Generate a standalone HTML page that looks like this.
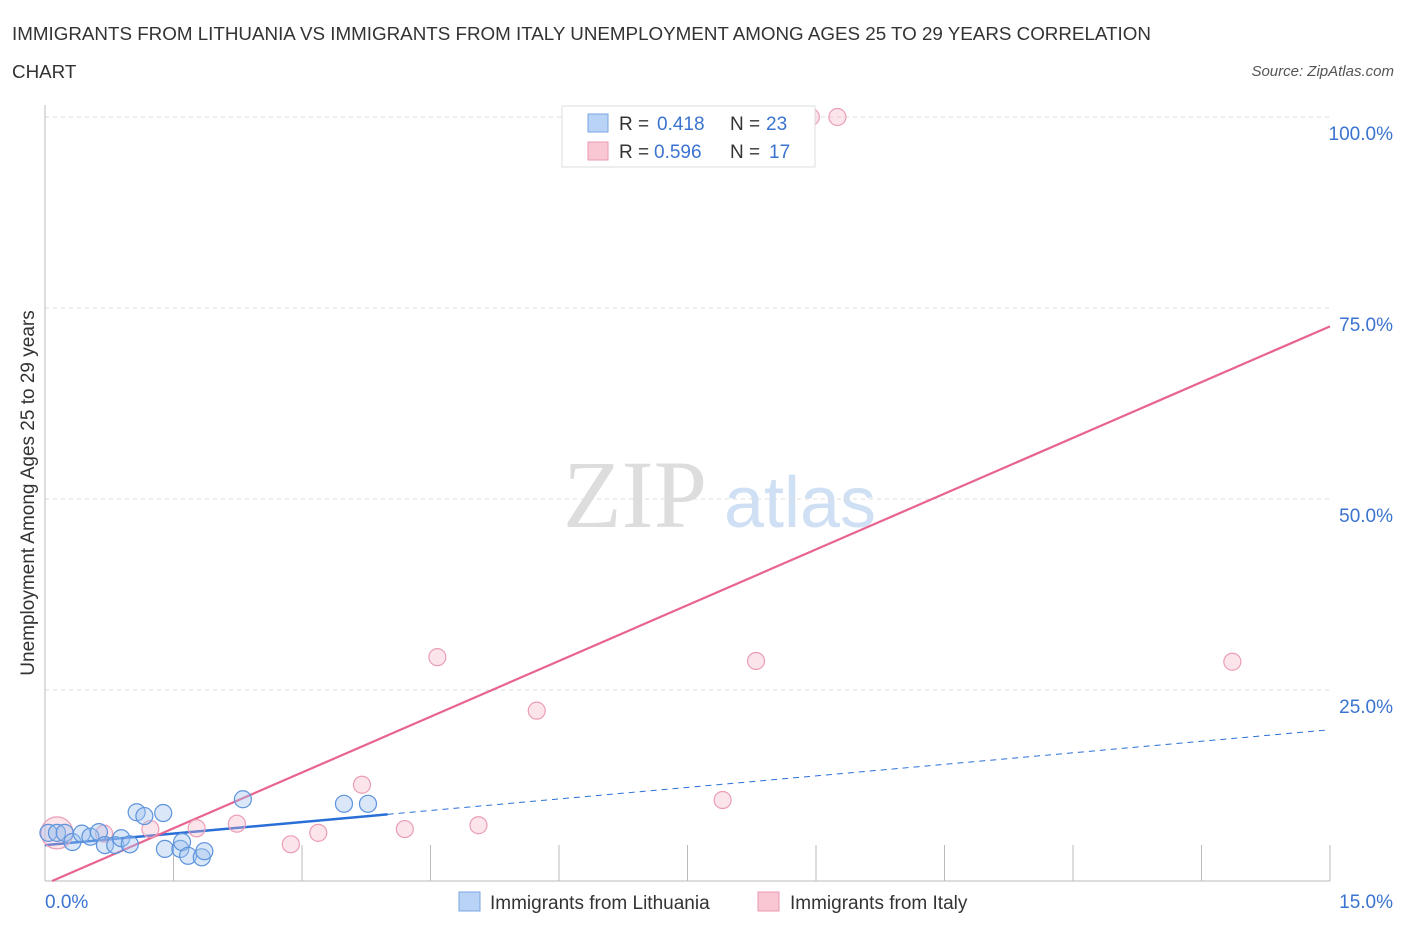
<!DOCTYPE html>
<html><head><meta charset="utf-8"><style>
body{margin:0;background:#fff;font-family:"Liberation Sans",sans-serif}
</style></head><body>
<svg width="1406" height="930" xmlns="http://www.w3.org/2000/svg" id="chart" font-family="Liberation Sans, sans-serif">
<text x="12" y="40" font-size="18.8" fill="#333">IMMIGRANTS FROM LITHUANIA VS IMMIGRANTS FROM ITALY UNEMPLOYMENT AMONG AGES 25 TO 29 YEARS CORRELATION</text>
<text x="12" y="78" font-size="18.8" fill="#333">CHART</text>
<text x="1394" y="76" font-size="15" fill="#555" font-style="italic" text-anchor="end">Source: ZipAtlas.com</text>
<text x="635" y="527" font-size="96" fill="#ddd" font-family="Liberation Serif, serif" text-anchor="middle">ZIP</text>
<text x="800" y="527" font-size="72" fill="#cfe0f4" text-anchor="middle">atlas</text>
<g id="grid"></g>
<g id="axes"></g>
<g id="lines"></g>
<g id="points"></g>
<text transform="translate(34,493) rotate(-90)" font-size="19" fill="#333" text-anchor="middle">Unemployment Among Ages 25 to 29 years</text>
<text x="45" y="908" font-size="19" fill="#3b73d0">0.0%</text>
<text x="1393" y="908" font-size="19" fill="#3b73d0" text-anchor="end">15.0%</text>
<g>
<rect x="562" y="106" width="253" height="61" fill="#fff" stroke="#ddd"/>
<rect x="588" y="114" width="20" height="18" fill="#b8d3f5" stroke="#7aa6e0"/>
<rect x="588" y="142" width="20" height="18" fill="#f9c6d4" stroke="#e99ab2"/>
<text x="619" y="130" font-size="19" fill="#333">R = </text><text x="657" y="130" font-size="19" fill="#3b73d0">0.418</text>
<text x="730" y="130" font-size="19" fill="#333">N = </text><text x="766" y="130" font-size="19" fill="#3b73d0">23</text>
<text x="619" y="158" font-size="19" fill="#333">R = </text><text x="654" y="158" font-size="19" fill="#3b73d0">0.596</text>
<text x="730" y="158" font-size="19" fill="#333">N = </text><text x="769" y="158" font-size="19" fill="#3b73d0">17</text>
</g>
<g>
<rect x="459" y="892" width="21" height="19" fill="#b8d3f5" stroke="#7aa6e0"/>
<text x="490" y="909" font-size="19" fill="#333">Immigrants from Lithuania</text>
<rect x="758" y="892" width="21" height="19" fill="#f9c6d4" stroke="#e99ab2"/>
<text x="790" y="909" font-size="19" fill="#333">Immigrants from Italy</text>
</g>
</svg>
<script>
const yTicks=[25,50,75,100];
const yTickLabels=["25.0%","50.0%","75.0%","100.0%"];
const xTicks=[1.5,3,4.5,6,7.5,9,10.5,12,13.5,15];
const blueX=[0.04,0.14,0.23,0.32,0.43,0.53,0.63,0.70,0.82,0.89,0.99,1.07,1.16,1.38,1.40,1.58,1.60,1.67,1.83,1.86,2.31,3.49,3.77];
const blueY=[6.3,6.3,6.3,5.1,6.2,5.8,6.4,4.7,4.7,5.6,4.8,9.0,8.5,8.9,4.2,4.2,5.1,3.3,3.1,3.9,10.7,10.1,10.1];
const pinkX=[0.14,0.69,1.23,1.77,2.24,2.87,3.19,3.70,4.20,4.58,5.06,5.74,7.91,8.30,8.94,9.25,13.86];
const pinkY=[6.3,6.2,6.8,6.9,7.5,4.8,6.3,12.6,6.8,29.3,7.3,22.3,10.6,28.8,100,100,28.7];
const blueLine=[4.7,19.8]; const blueSolidEnd=4.0;
const pinkLine=[-0.4,72.6];
const NS="http://www.w3.org/2000/svg";
const X=v=>45+v/15*1285, Y=v=>881-v/25*191;
function mk(t,a,p){const e=document.createElementNS(NS,t);for(const k in a)e.setAttribute(k,a[k]);p.appendChild(e);return e;}
const g=document.getElementById('grid'),ax=document.getElementById('axes'),ln=document.getElementById('lines'),pt=document.getElementById('points');
yTicks.forEach((t,i)=>{
 const l=mk('line',{x1:45,x2:1330,y1:Y(t),y2:Y(t),stroke:'#ddd','stroke-dasharray':'4,4'},g);
 
 
 const tx=mk('text',{x:1393,y:Y(t)+23,'font-size':19,fill:'#3b73d0','text-anchor':'end'},g);
 tx.textContent=yTickLabels[i];
 
 
});
const ya=mk('line',{x1:45,x2:45,y1:105,y2:881,stroke:'#bbb'},ax);


const xa=mk('line',{x1:45,x2:1330,y1:881,y2:881,stroke:'#bbb'},ax);


xTicks.forEach(t=>{
 const l=mk('line',{x1:X(t),x2:X(t),y1:845,y2:881,stroke:'#bbb'},ax);
 
 
});
function circ(x,y,r,f,s,name){
 const c=mk('circle',{cx:X(x),cy:Y(y),r:r,fill:f,stroke:s,'stroke-width':1.2},pt);
 
 
}
pinkX.forEach((x,i)=>circ(x,pinkY[i],i==0?16:8.5,'rgba(246,178,198,0.35)','#eb9db6','point-italy'));
blueX.forEach((x,i)=>circ(x,blueY[i],8.5,'rgba(160,196,240,0.4)','#5d93dc','point-lithuania'));
const bm=blueLine[0]+(blueLine[1]-blueLine[0])*blueSolidEnd/15;
const bs=mk('line',{x1:X(0),y1:Y(blueLine[0]),x2:X(blueSolidEnd),y2:Y(bm),stroke:'#2a6fd6','stroke-width':2.5},ln);


const bd=mk('line',{x1:X(blueSolidEnd),y1:Y(bm),x2:X(15),y2:Y(blueLine[1]),stroke:'#2a6fd6','stroke-width':1,'stroke-dasharray':'6,5'},ln);


const px0=Math.max(0,-pinkLine[0]*15/(pinkLine[1]-pinkLine[0]));
const pl=mk('line',{x1:X(px0),y1:Y(pinkLine[0]+(pinkLine[1]-pinkLine[0])*px0/15),x2:X(15),y2:Y(pinkLine[1]),stroke:'#e8638e','stroke-width':2.2},ln);


</script>
</body></html>
